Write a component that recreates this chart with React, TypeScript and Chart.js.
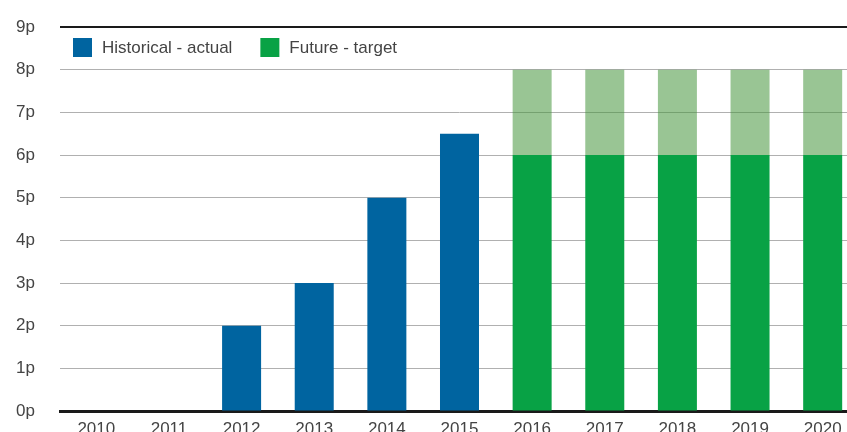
import React, { useEffect, useRef } from "react";
import { Chart, registerables } from "chart.js";

Chart.register(...registerables);

const years = ["2010", "2011", "2012", "2013", "2014", "2015", "2016", "2017", "2018", "2019", "2020"];
const historical = [0, 0, 2, 3, 5, 6.5, null, null, null, null, null];
const futureBase = [null, null, null, null, null, null, 6, 6, 6, 6, 6];
const futureUpper = [null, null, null, null, null, null, 2, 2, 2, 2, 2];
const yTicks = [0, 1, 2, 3, 4, 5, 6, 7, 8, 9];

const BLUE = "#0064a0";
const GREEN = "#08a245";
const LIGHT_GREEN = "rgba(70,150,60,0.55)";
const TEXT = "#444444";
const FONT = "'Liberation Sans', Arial, sans-serif";

const legendPlugin = {
  id: "innerLegend",
  afterDraw(chart: any) {
    const { ctx, chartArea } = chart;
    const items = [
      { label: chart.data.datasets[0].label, color: chart.data.datasets[0].backgroundColor },
      { label: chart.data.datasets[1].label, color: chart.data.datasets[1].backgroundColor },
    ];
    ctx.save();
    ctx.font = `17px ${FONT}`;
    ctx.textBaseline = "middle";
    ctx.textAlign = "left";
    let x = chartArea.left + 13;
    const boxTop = chartArea.top + 11;
    const box = 19;
    for (const it of items) {
      ctx.fillStyle = it.color;
      ctx.fillRect(x, boxTop, box, box);
      ctx.fillStyle = TEXT;
      const tx = x + box + 10;
      ctx.fillText(it.label, tx, boxTop + box / 2 + 1);
      x = tx + ctx.measureText(it.label).width + 28;
    }
    ctx.restore();
  },
};

export default function App() {
  const ref = useRef<HTMLCanvasElement>(null);
  useEffect(() => {
    document.documentElement.style.overflow = "hidden";
    document.body.style.overflow = "hidden";
    const chart = new Chart(ref.current!, {
      type: "bar",
      data: {
        labels: years,
        datasets: [
          { label: "Historical - actual", data: historical, backgroundColor: BLUE, stack: "a" },
          { label: "Future - target", data: futureBase, backgroundColor: GREEN, stack: "a" },
          { label: "Future - upper", data: futureUpper, backgroundColor: LIGHT_GREEN, stack: "a" },
        ],
      },
      plugins: [legendPlugin],
      options: {
        responsive: false,
        animation: false,
        layout: { padding: { top: 27, right: 1, left: 0, bottom: 0 } },
        datasets: { bar: { categoryPercentage: 1, barPercentage: 0.537 } },
        plugins: { legend: { display: false }, tooltip: { enabled: false } },
        scales: {
          x: {
            stacked: true,
            grid: { display: false, drawTicks: false },
            border: { display: true, color: "#1a1a1a", width: 3 },
            ticks: { color: TEXT, font: { family: FONT, size: 17 }, padding: 8, maxRotation: 0, autoSkip: false },
            afterFit(scale: any) { scale.height = 40; },
          },
          y: {
            stacked: true,
            min: 0,
            max: 9,
            afterBuildTicks(scale: any) { scale.ticks = yTicks.map((v) => ({ value: v })); },
            grid: {
              drawTicks: false,
              color: (c: any) => (c.tick && c.tick.value === 9 ? "#1a1a1a" : "#b0b0b0"),
              lineWidth: (c: any) => (c.tick && c.tick.value === 9 ? 2 : 1),
            },
            border: { display: false },
            ticks: { color: TEXT, font: { family: FONT, size: 17 }, padding: 25, callback: (v: any) => v + "p" },
            afterFit(scale: any) {
              scale.width = 60;
              scale.paddingTop = 0;
              scale.paddingBottom = 0;
            },
          },
        },
      },
    });
    return () => chart.destroy();
  }, []);
  return (
    <div style={{ position: "fixed", left: 0, top: 0, width: 860, height: 451 }}>
      <canvas ref={ref} width={860} height={451} style={{ display: "block" }} />
    </div>
  );
}
